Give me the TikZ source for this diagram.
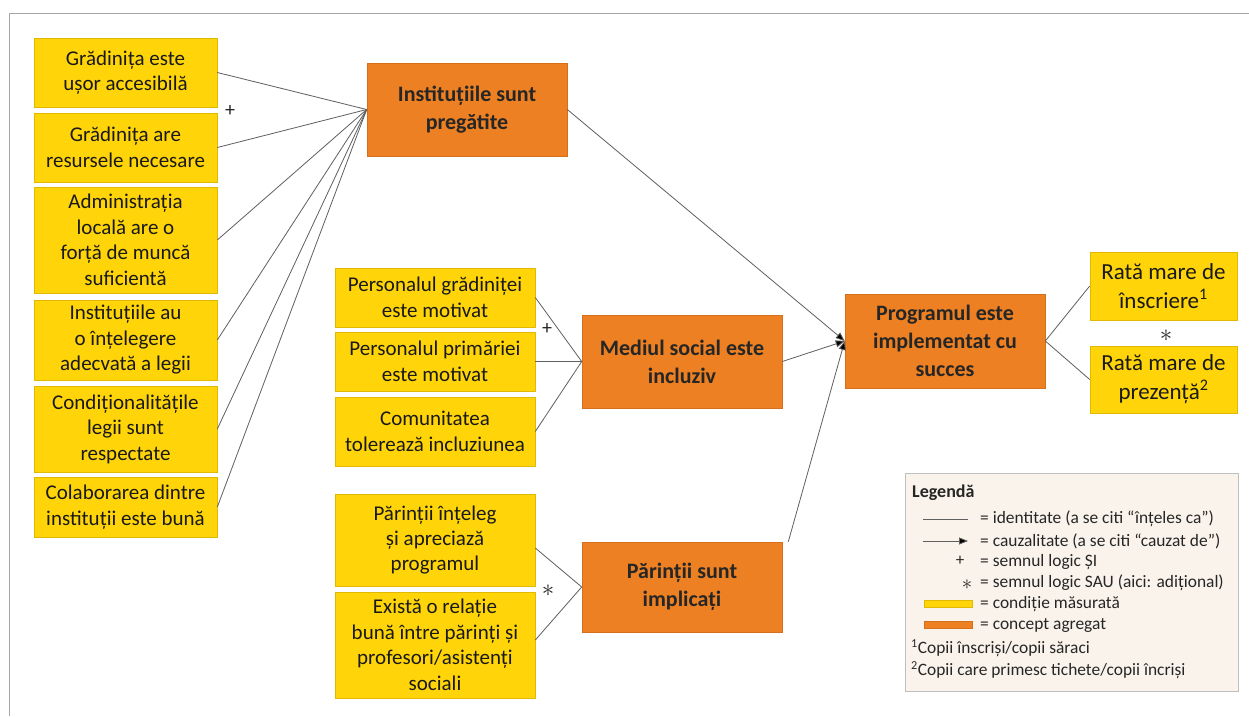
\documentclass[tikz,border=0pt]{standalone}
\usepackage{fontspec}
\setmainfont{Carlito}
\usetikzlibrary{arrows.meta}
\definecolor{ybox}{RGB}{255,213,10}
\definecolor{yedge}{RGB}{225,185,0}
\definecolor{obox}{RGB}{236,128,34}
\definecolor{oedge}{RGB}{215,110,25}
\definecolor{lgbg}{RGB}{249,243,235}
\definecolor{conn}{RGB}{95,95,95}
\newcommand\bx[7]{\node[#6, minimum width=#4pt-#2pt, minimum height=#5pt-#3pt, inner sep=0pt, align=center] (#1) at ({(#2+#4)/2},{(#3+#5)/2}) {#7};}
\tikzset{
  ybx/.style={fill=ybox, draw=yedge, line width=0.6pt, font=\fontsize{21}{25.5}\selectfont, text=black!90},
  obx/.style={fill=obox, draw=oedge, line width=0.6pt, font=\fontsize{22}{28}\selectfont\bfseries, text=black!85},
  rbx/.style={fill=ybox, draw=yedge, line width=0.6pt, font=\fontsize{23}{29}\selectfont, text=black!90},
  ident/.style={draw=conn, line width=0.8pt},
  causal/.style={draw=conn, line width=0.8pt, -{Triangle[length=9pt,width=7pt,fill=black]}},
  sign/.style={font=\fontsize{20}{20}\selectfont, text=black!85, inner sep=0pt},
  star/.style={font=\fontsize{26}{26}\selectfont, text=black!85, inner sep=0pt},
  lgtxt/.style={font=\fontsize{17.4}{21}\selectfont, text=black!85, anchor=west, inner sep=0pt},
}
\begin{document}
\begin{tikzpicture}[x=1pt,y=-1pt]
\useasboundingbox[fill=white] (0,0) rectangle (1249,716);
% frame
\draw[gray!70, line width=0.8pt] (9,716) -- (9,13) -- (1249,13);
% left column
\bx{b1}{34}{38}{217}{107}{ybx}{Grădinița este\\ușor accesibilă}
\bx{b2}{34}{113}{217}{182}{ybx}{Grădinița are\\resursele necesare}
\bx{b3}{34}{187}{217}{293}{ybx}{Administrația\\locală are o\\forță de muncă\\suficientă}
\bx{b4}{34}{300}{217}{380}{ybx}{Instituțiile au\\o înțelegere\\adecvată a legii}
\bx{b5}{34}{386}{217}{472}{ybx}{Condiționalitățile\\legii sunt\\respectate}
\bx{b6}{34}{477}{217}{537}{ybx}{Colaborarea dintre\\instituții este bună}
% middle column
\bx{m1}{335}{268}{535}{327}{ybx}{Personalul grădiniței\\este motivat}
\bx{m2}{335}{332}{535}{391}{ybx}{Personalul primăriei\\este motivat}
\bx{m3}{335}{397}{535}{466}{ybx}{Comunitatea\\tolerează incluziunea}
\bx{p1}{335}{494}{535}{586}{ybx}{Părinții înțeleg\\și apreciază\\programul}
\bx{p2}{335}{592}{535}{698}{ybx}{Există o relație\\bună între părinți și\\profesori/asistenți\\sociali}
% aggregated concepts
\bx{inst}{367}{63}{567}{156}{obx}{Instituțiile sunt\\pregătite}
\bx{med}{582}{315}{782}{408}{obx}{Mediul social este\\incluziv}
\bx{par}{582}{542}{782}{632}{obx}{Părinții sunt\\implicați}
\bx{prog}{845}{294}{1045}{388}{obx}{Programul este\\implementat cu\\succes}
% outcomes
\bx{r1}{1090}{252}{1237}{320}{rbx}{Rată mare de\\înscriere\textsuperscript{1}}
\bx{r2}{1090}{346}{1237}{413}{rbx}{Rată mare de\\prezență\textsuperscript{2}}
% identity connectors
\foreach \n in {b1,b2,b3,b4,b5,b6} \draw[ident] (\n.east) -- (inst.west);
\foreach \n in {m1,m2,m3} \draw[ident] (\n.east) -- (med.west);
\draw[ident] ([yshift=-8pt]p1.east) -- (par.west);
\draw[ident] ([yshift=5pt]p2.east) -- (par.west);
\draw[ident] (prog.east) -- (r1.west);
\draw[ident] (prog.east) -- (r2.west);
% causal connectors
\draw[causal] (inst.east) -- (prog.west);
\draw[causal] (med.east) -- (prog.west);
\draw[causal] ([xshift=6pt]par.north east) -- (prog.west);
% logic signs
\node[sign] (s1) at (230,111) {+};
\node[sign] (s2) at (547,329) {+};
\node[star] (s3) at (548,591) {$\ast$};
\node[star] (s4) at (1166,336) {$\ast$};
% legend
\node[fill=lgbg, draw=gray!50, line width=0.6pt, minimum width=333pt, minimum height=218pt, inner sep=0pt] (leg) at (1071.5,582) {};
\node[font=\fontsize{18}{21}\selectfont\bfseries, anchor=west, inner sep=0pt, text=black!85] (lt) at (912,493) {Legendă};
\coordinate (la1) at (923,519); \coordinate (lb1) at (968,519);
\draw[ident] (la1) -- (lb1);
\coordinate (la2) at (923,541); \coordinate (lb2) at (968,541);
\draw[causal] (la2) -- (lb2);
\node[font=\fontsize{17}{17}\selectfont, text=black!85, inner sep=0pt] (lp) at (960,561) {+};
\node[font=\fontsize{20}{20}\selectfont, text=black!85, inner sep=0pt] (ls) at (967,585) {$\ast$};
\node[fill=ybox, draw=yedge, minimum width=48pt, minimum height=7pt, inner sep=0pt] (ly) at (948,604) {};
\node[fill=obox, draw=oedge, minimum width=48pt, minimum height=7pt, inner sep=0pt] (lo) at (948,625) {};
\node[lgtxt] (t1) at (980,519) {= identitate (a se citi “înțeles ca”)};
\node[lgtxt] (t2) at (980,541) {= cauzalitate (a se citi “cauzat de”)};
\node[lgtxt] (t3) at (980,562) {= semnul logic ȘI};
\node[lgtxt] (t4) at (980,583) {= semnul logic SAU (aici: adițional)};
\node[lgtxt] (t5) at (980,604) {= condiție măsurată};
\node[lgtxt] (t6) at (980,625) {= concept agregat};
\node[lgtxt] (f1) at (911,648) {\textsuperscript{1}Copii înscriși/copii săraci};
\node[lgtxt] (f2) at (911,670) {\textsuperscript{2}Copii care primesc tichete/copii încriși};
\end{tikzpicture}
\end{document}
